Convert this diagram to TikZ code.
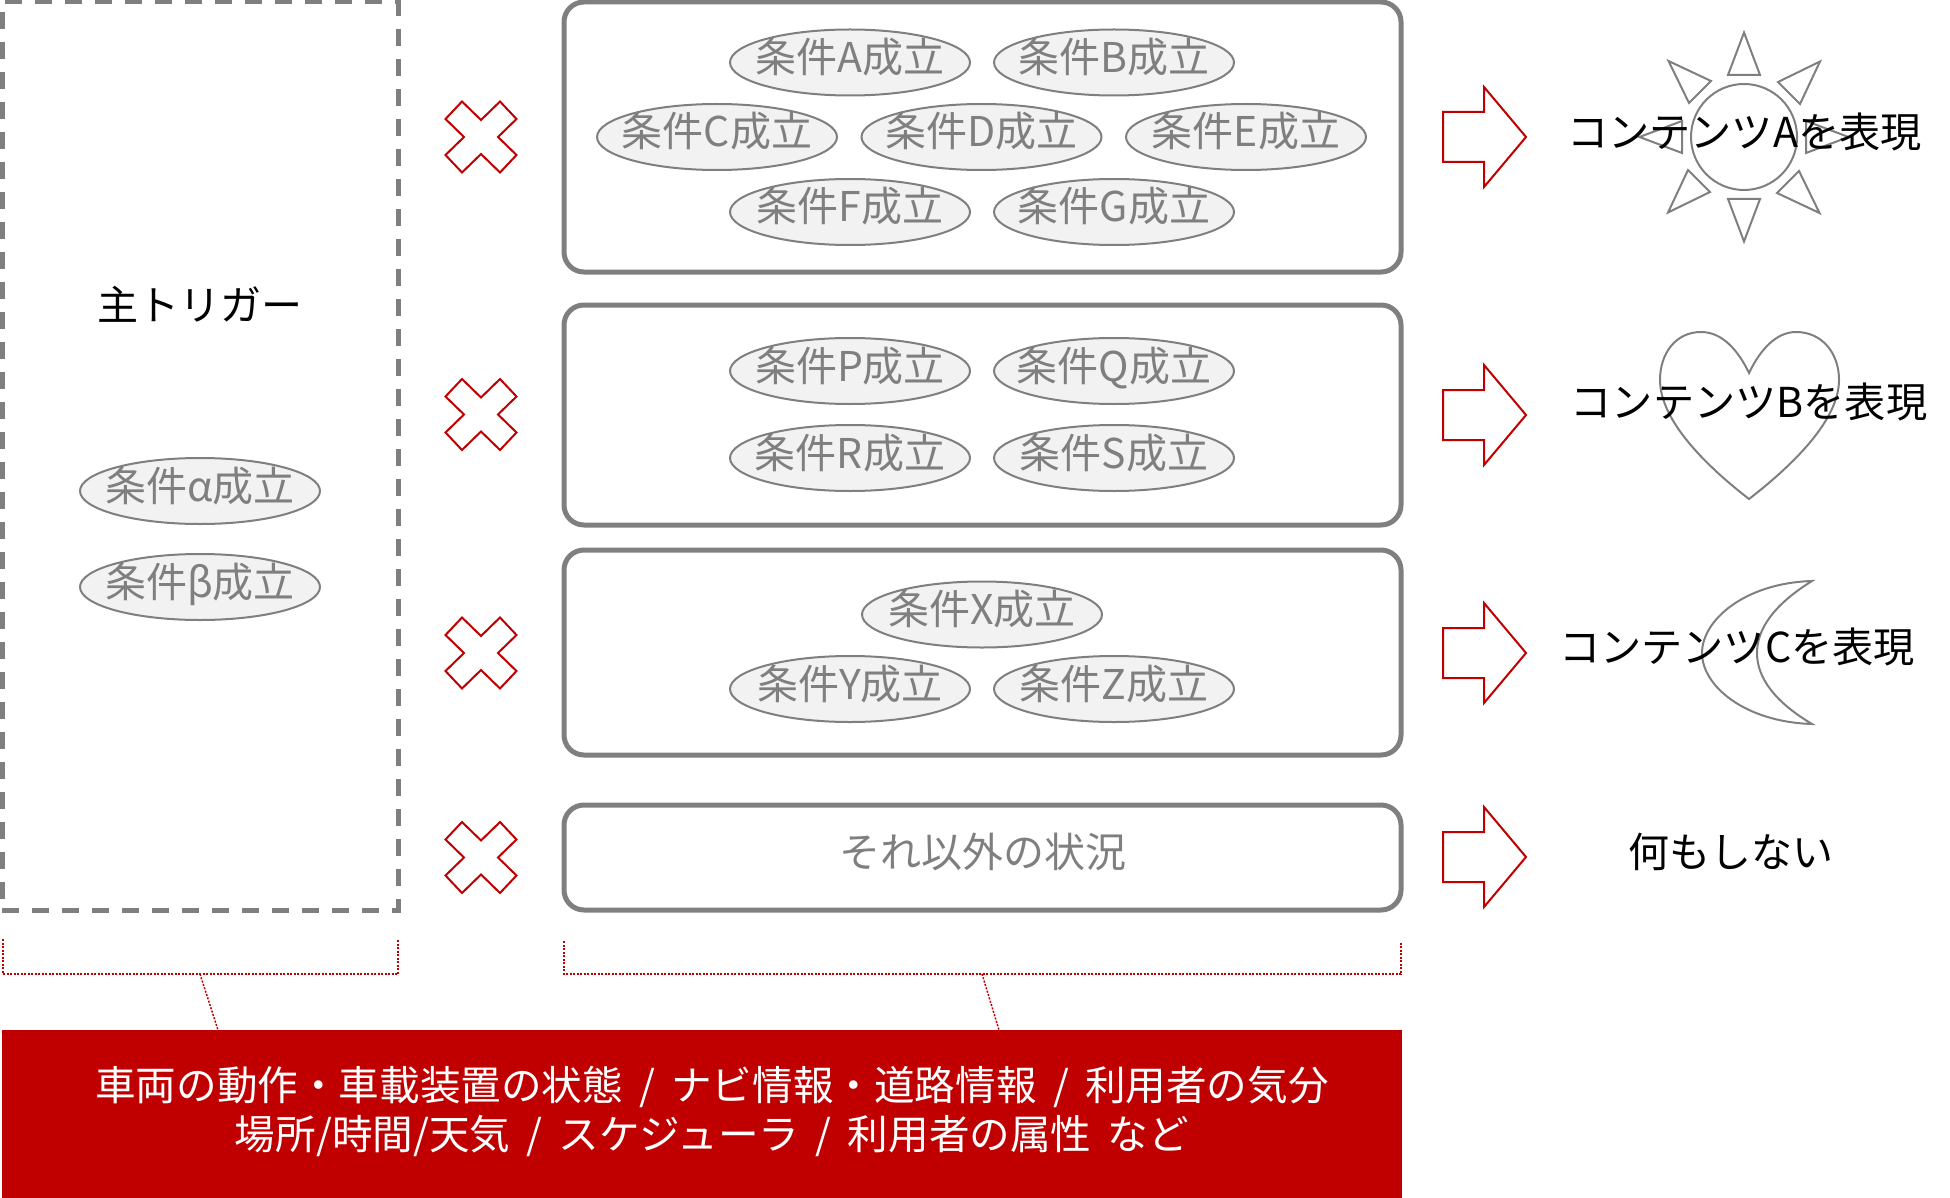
\documentclass[tikz,border=0pt]{standalone}
\usepackage{fontspec}
\setmainfont{Noto Sans CJK JP}
\usetikzlibrary{shapes.geometric}
\definecolor{mygray}{HTML}{7F7F7F}
\definecolor{myfill}{HTML}{F2F2F2}
\definecolor{myred}{HTML}{C00000}
\newcommand\ctext[1]{\makebox[0pt][c]{\raisebox{-10pt}[0pt][0pt]{#1}}}
\tikzset{
  base/.style={font=\fontsize{41}{49}\selectfont},
  cond/.style={base,ellipse,draw=mygray,fill=myfill,line width=2pt,text=mygray,minimum width=240pt,minimum height=66pt,inner sep=0pt},
  group/.style={base,draw=mygray,line width=5pt,rounded corners=20pt,text=mygray,inner sep=0pt},
  label/.style={font=\fontsize{41.2}{49}\selectfont,text=black,inner sep=0pt},
  redline/.style={draw=myred,line width=2pt,line join=miter},
  iconline/.style={draw=mygray,line width=2pt},
  bracket/.style={draw=myred,line width=1.5pt,dash pattern=on 2pt off 1.5pt},
  pics/crossmark/.style={code={
    \draw[redline] (-19,-35.5)--(0,-17)--(19,-35.5)--(35.5,-18)--(17,0)--(35.5,18)--(19,35.5)--(0,17)--(-19,35.5)--(-35.5,18)--(-17,0)--(-35.5,-18)--cycle;
  }},
  pics/bigarrow/.style={code={
    \draw[redline] (-41,-25)--(0,-25)--(0,-50)--(42,0)--(0,50)--(0,25)--(-41,25)--cycle;
  }},
  pics/ray/.style={code={
    \draw[iconline] (-16,-62)--(0,-104.5)--(16,-62)--cycle;
  }},
  pics/diagray/.style={code={
    \draw[iconline] (34,-55)--(76,-75.5)--(56,-33)--cycle;
  }}
}
\begin{document}
\begin{tikzpicture}[x=1pt,y=-1pt]
\useasboundingbox (0,0) rectangle (1950,1198);
% left dashed box
\node[base,draw=mygray,line width=5pt,dash pattern=on 17pt off 13pt,minimum width=396pt,minimum height=908pt,inner sep=0pt] (trigger) at (200,456) {};
\node[base,text=black,inner sep=0pt] (triggertext) at (200,304) {主トリガー};
% group boxes
\node[group,minimum width=837pt,minimum height=270pt] (g1) at (982.5,137) {};
\node[group,minimum width=837pt,minimum height=220pt] (g2) at (982.5,415) {};
\node[group,minimum width=837pt,minimum height=205pt] (g3) at (982.5,652.5) {};
\node[group,minimum width=837pt,minimum height=105pt] (g4) at (982.5,857.5) {\ctext{それ以外の状況}};
% conditions
\node[cond] (ca) at (200,491) {\ctext{条件α成立}};
\node[cond] (cb) at (200,587) {\ctext{条件β成立}};
\node[cond] (A) at (850,62.5) {\ctext{条件A成立}};
\node[cond] (B) at (1114,62.5) {\ctext{条件B成立}};
\node[cond] (C) at (717,137) {\ctext{条件C成立}};
\node[cond] (D) at (981.5,137) {\ctext{条件D成立}};
\node[cond] (E) at (1246,137) {\ctext{条件E成立}};
\node[cond] (F) at (850,212) {\ctext{条件F成立}};
\node[cond] (G) at (1114,212) {\ctext{条件G成立}};
\node[cond] (P) at (850,371) {\ctext{条件P成立}};
\node[cond] (Q) at (1114,371) {\ctext{条件Q成立}};
\node[cond] (R) at (850,458) {\ctext{条件R成立}};
\node[cond] (S) at (1114,458) {\ctext{条件S成立}};
\node[cond] (X) at (982,614.5) {\ctext{条件X成立}};
\node[cond] (Y) at (850,689) {\ctext{条件Y成立}};
\node[cond] (Z) at (1114,689) {\ctext{条件Z成立}};
% crosses
\pic at (481,137) {crossmark};
\pic at (481,414.5) {crossmark};
\pic at (481,653) {crossmark};
\pic at (481,857.5) {crossmark};
% arrows
\pic at (1484,137) {bigarrow};
\pic at (1484,415) {bigarrow};
\pic at (1484,653) {bigarrow};
\pic at (1484,857) {bigarrow};
% sun
\draw[iconline] (1744,137) circle (53);
\foreach \a in {0,90,180,270} {\pic[rotate=\a] at (1744,137) {ray};}
\foreach \a in {0,90,180,270} {\pic[rotate=\a] at (1744,137) {diagray};}
% heart
\draw[iconline] (1749,373) .. controls (1738,350) and (1722,332) .. (1701,332)
  .. controls (1676,332) and (1660,353) .. (1660,380)
  .. controls (1660,420) and (1705,465) .. (1749,499)
  .. controls (1793,465) and (1839,420) .. (1839,380)
  .. controls (1839,353) and (1822,332) .. (1796,332)
  .. controls (1776,332) and (1760,350) .. (1749,373) -- cycle;
% moon
\draw[iconline] (1812,581) .. controls (1745,583) and (1702,620) .. (1702,653)
  .. controls (1702,686) and (1745,722) .. (1812,724)
  .. controls (1775,702) and (1757,678) .. (1757,653)
  .. controls (1757,628) and (1775,604) .. (1812,581) -- cycle;
% result labels
\node[label] (ra) at (1744.5,132) {コンテンツAを表現};
\node[label] (rb) at (1749,402) {コンテンツBを表現};
\node[label] (rc) at (1737,647) {コンテンツCを表現};
\node[base,text=black,inner sep=0pt] (rd) at (1731,852) {何もしない};
% brackets
\coordinate (b1a) at (3,939);
\coordinate (b1b) at (3,974);
\coordinate (b1c) at (398,974);
\coordinate (b1d) at (398,939);
\coordinate (b1m) at (200,974);
\coordinate (b2a) at (564,941);
\coordinate (b2b) at (564,974);
\coordinate (b2c) at (1401,974);
\coordinate (b2d) at (1401,941);
\coordinate (b2m) at (982,974);
\coordinate (t1) at (218,1030);
\coordinate (t2) at (999,1030);
\draw[bracket] (b1a) -- (b1b) -- (b1c) -- (b1d);
\draw[bracket] (b2a) -- (b2b) -- (b2c) -- (b2d);
\draw[bracket] (b1m) -- (t1);
\draw[bracket] (b2m) -- (t2);
% red bar
\node[base,fill=myred,text=white,minimum width=1400pt,minimum height=168pt,inner sep=0pt] (bar) at (701.5,1114) {};
\node[font=\fontsize{40.6}{49}\selectfont,text=white,align=center,inner sep=0pt] (bartext) at (712,1111) {\spaceskip=0.4em 車両の動作・車載装置の状態 / ナビ情報・道路情報 / 利用者の気分\\\spaceskip=0.4em 場所/時間/天気 / スケジューラ / 利用者の属性 など};
\end{tikzpicture}
\end{document}
